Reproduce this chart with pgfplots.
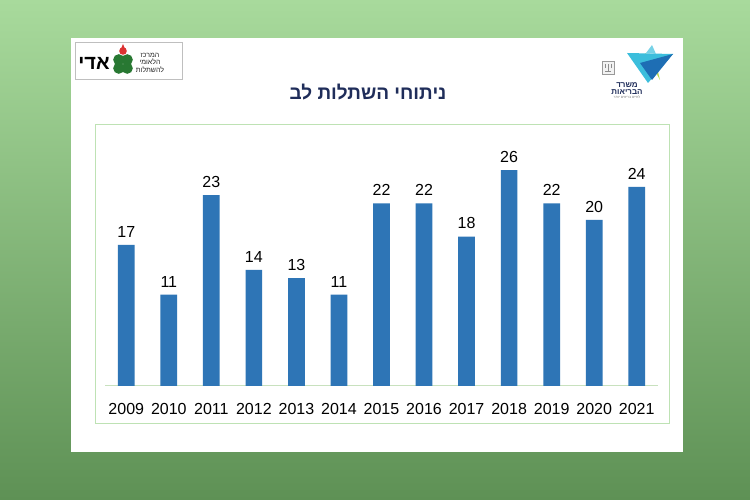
\documentclass[border=0pt]{standalone}
\usepackage{pgfplots}
\pgfplotsset{compat=1.18}
\usepackage{fontspec}
\setmainfont{Liberation Sans}
\newfontfamily\hebfont[Script=Hebrew]{Liberation Sans}
\TeXXeTstate=1
\definecolor{bgtop}{RGB}{168,218,156}
\definecolor{bgbot}{RGB}{94,145,85}
\definecolor{barblue}{RGB}{46,117,182}
\definecolor{framegreen}{RGB}{190,226,180}
\definecolor{basegreen}{RGB}{200,225,190}
\definecolor{titlenavy}{RGB}{31,45,90}
\definecolor{clover}{RGB}{40,120,50}
\definecolor{dropred}{RGB}{220,50,50}
\definecolor{mohcyan}{RGB}{60,190,220}
\definecolor{mohblue}{RGB}{30,110,180}
\definecolor{mohlime}{RGB}{190,220,80}
\pgfplotstableread{
x year val
0 2009 17
1 2010 11
2 2011 23
3 2012 14
4 2013 13
5 2014 11
6 2015 22
7 2016 22
8 2017 18
9 2018 26
10 2019 22
11 2020 20
12 2021 24
}\datatable
\begin{document}
\begin{tikzpicture}[x=1pt,y=1pt]
\useasboundingbox (0,0) rectangle (750,500);
\shade[top color=bgtop, bottom color=bgbot] (0,0) rectangle (750,500);
% slide
\fill[white] (71,48) rectangle (683,462);
% left logo
\draw[black!25, line width=0.6pt, fill=white] (75,421) rectangle (182,458);
\node[font=\hebfont\fontsize{20}{22}\selectfont\bfseries, anchor=center] at (94,437) {\beginR אדי\endR};
\foreach \a in {45,135,225,315}{
  \fill[clover] (123,436) ++(\a:6) circle (5.6);
}
\fill[dropred] (123,449) circle (3.8);
\fill[dropred] (119.8,448) -- (123,456) -- (126.2,448) -- cycle;
\node[font=\hebfont\fontsize{7}{7}\selectfont, anchor=center, text=black!85] at (150,445) {\beginR המרכז\endR};
\node[font=\hebfont\fontsize{7}{7}\selectfont, anchor=center, text=black!85] at (150,438) {\beginR הלאומי\endR};
\node[font=\hebfont\fontsize{7}{7}\selectfont, anchor=center, text=black!85] at (150,430) {\beginR להשתלות\endR};
% right logo
\draw[black!40, line width=0.5pt, fill=black!5] (602,426) rectangle (614,439);
\draw[black!45, line width=0.5pt] (605,429) -- (611,429) (608,429) -- (608,436) (605,436) -- (605,432) (611,436) -- (611,432);
\fill[mohlime] (645,447) -- (660,420) -- (655,440) -- cycle;
\fill[mohcyan] (627,447) -- (673,446) -- (648,417) -- cycle;
\fill[mohblue] (640,437) -- (673,446) -- (652,420) -- cycle;
\fill[mohcyan!70] (646,447) -- (652,455) -- (656,446) -- cycle;
\node[font=\hebfont\fontsize{8}{8}\selectfont\bfseries, text=titlenavy, anchor=center] at (627,415) {\beginR משרד\endR};
\node[font=\hebfont\fontsize{8}{8}\selectfont\bfseries, text=titlenavy, anchor=center] at (627,408) {\beginR הבריאות\endR};
\node[font=\hebfont\fontsize{3.5}{4}\selectfont, text=black!50, anchor=center] at (627,403) {\beginR לחיים בריאים יותר\endR};
% title
\node[font=\hebfont\fontsize{19}{22}\selectfont\bfseries, text=titlenavy, anchor=center] at (368,408) {\beginR ניתוחי השתלות לב\endR};
% chart frame
\draw[framegreen, line width=1pt] (95,76) rectangle (669,375);
\begin{axis}[
  at={(105pt,114pt)}, anchor=south west,
  scale only axis, width=553pt, height=249pt,
  xmin=-0.5, xmax=12.5, ymin=0, ymax=30,
  axis x line=bottom, axis y line=none,
  axis line style={basegreen, line width=1pt, -},
  xtick=data, xticklabels={2009,2010,2011,2012,2013,2014,2015,2016,2017,2018,2019,2020,2021},
  major tick length=0pt,
  xticklabel style={font=\fontsize{16}{18}\selectfont, text=black, yshift=-14pt},
  ybar, bar width=16.7pt,
  nodes near coords,
  nodes near coords style={font=\fontsize{16}{18}\selectfont, text=black, yshift=4pt},
  /pgf/number format/assume math mode=true,
  clip=false,
]
\addplot[fill=barblue, draw=none] table[x=x, y=val] {\datatable};
\end{axis}
\end{tikzpicture}
\end{document}
